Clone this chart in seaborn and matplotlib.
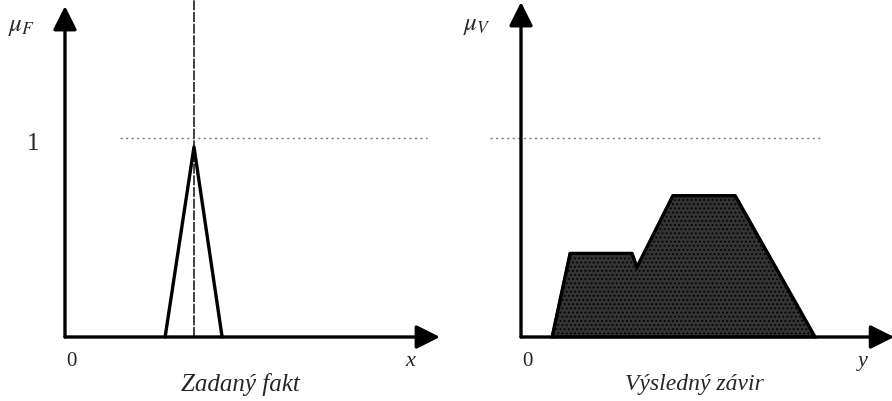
import matplotlib
matplotlib.use("Agg")
import matplotlib.pyplot as plt
import seaborn as sns
import pandas as pd

sns.set_style("white")
plt.rcParams["font.family"] = ["Liberation Serif", "DejaVu Serif"]
plt.rcParams["mathtext.fontset"] = "stix"
plt.rcParams["hatch.color"] = "#8a8a8a"
plt.rcParams["hatch.linewidth"] = 0.8

# ---- data (panel units) ----
fact_x = [2.67, 3.44, 4.19]
fact_mu = [0.0, 0.955, 0.0]
fact_value = 3.44

result_y = [0.83, 1.31, 2.96, 3.09, 4.05, 5.71, 7.84]
result_mu = [0.0, 0.42, 0.42, 0.35, 0.71, 0.71, 0.0]

left_title = "Zadaný fakt"
right_title = "Výsledný závir"
left_ylabel = r"$\mu_F$"
right_ylabel = r"$\mu_V$"
left_xlabel = "x"
right_xlabel = "y"

df_fact = pd.DataFrame({"x": fact_x, "mu": fact_mu})
df_res = pd.DataFrame({"y": result_y, "mu": result_mu})

fig = plt.figure(figsize=(8.92, 4.02), dpi=100)
axL = fig.add_axes([0, 0, 446 / 892, 1])
axR = fig.add_axes([446 / 892, 0, 446 / 892, 1])

YLIM = (-0.3216, 1.6985)
axL.set_xlim(-1.733, 10.16)
axR.set_xlim(-2.0, 9.893)
for ax in (axL, axR):
    ax.set_ylim(*YLIM)
    ax.axis("off")

arrow = dict(arrowstyle="-|>,head_length=0.8,head_width=0.4", mutation_scale=18,
             lw=2.4, color="black", shrinkA=0, shrinkB=0)

# left panel
axL.annotate("", xy=(0, 1.663), xytext=(0, 0), arrowprops=arrow, annotation_clip=False)
axL.annotate("", xy=(10.0, 0), xytext=(0, 0), arrowprops=arrow, annotation_clip=False)
axL.plot([1.47, 9.65], [1, 1], color="#777777", lw=1.0, ls=(0, (1.5, 2.5)))
axL.plot([fact_value, fact_value], [0, YLIM[1]], color="#222222", lw=1.2,
         ls=(0, (6, 1)))
sns.lineplot(data=df_fact, x="x", y="mu", sort=False, ax=axL, color="black", lw=2.4)
axL.text(-0.853, 0.975, "1", ha="center", va="center", fontsize=18)
axL.text(0.16, -0.12, "0", ha="center", va="center", fontsize=15)
axL.text(9.2, -0.12, left_xlabel, ha="center", va="center", fontsize=16, style="italic")
axL.text(4.667, -0.236, left_title, ha="center", va="center", fontsize=18, style="italic")
axL.text(-1.147, 1.563, left_ylabel, ha="center", va="center", fontsize=18)

# right panel
axR.annotate("", xy=(0, 1.683), xytext=(0, 0), arrowprops=arrow, annotation_clip=False)
axR.annotate("", xy=(9.95, 0), xytext=(0, 0), arrowprops=arrow, annotation_clip=False)
axR.plot([-0.83, 7.97], [1, 1], color="#777777", lw=1.0, ls=(0, (1.5, 2.5)))
axR.fill(df_res["y"], df_res["mu"], facecolor="#333333", edgecolor="black", lw=2.0,
         hatch="....", zorder=2)
sns.lineplot(data=df_res, x="y", y="mu", sort=False, ax=axR, color="black", lw=2.4)
axR.text(0.18, -0.12, "0", ha="center", va="center", fontsize=15)
axR.text(9.12, -0.12, right_xlabel, ha="center", va="center", fontsize=16, style="italic")
axR.text(4.613, -0.236, right_title, ha="center", va="center", fontsize=17, style="italic")
axR.text(-1.173, 1.568, right_ylabel, ha="center", va="center", fontsize=18)

fig.savefig("out.png", dpi=100)
